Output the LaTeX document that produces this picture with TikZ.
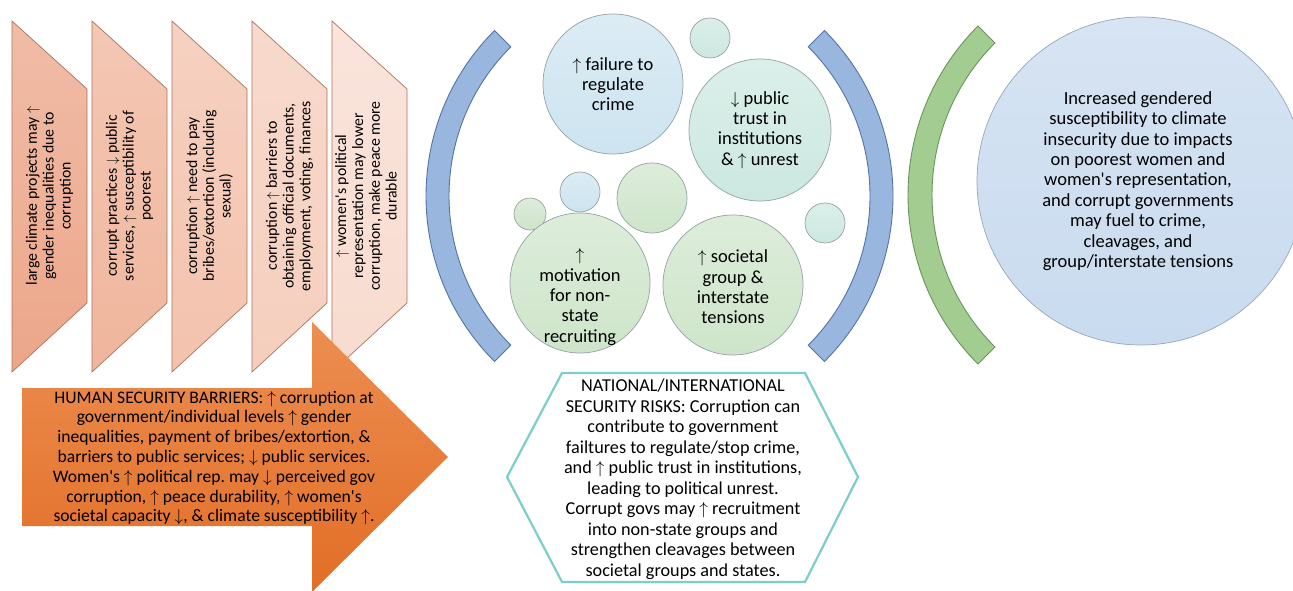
\documentclass[tikz,border=0pt]{standalone}
\usepackage{fontspec}
\setmainfont{Carlito}
\usepackage{tikz}
\usepackage{xcolor}
\usetikzlibrary{positioning, calc}
\frenchspacing

\definecolor{chevA}{RGB}{236,166,138}
\definecolor{chevB}{RGB}{240,181,156}
\definecolor{chevC}{RGB}{243,194,173}
\definecolor{chevD}{RGB}{245,206,189}
\definecolor{chevE}{RGB}{248,219,207}
\definecolor{chevline}{RGB}{170,115,95}
\definecolor{arrowtop}{RGB}{236,142,82}
\definecolor{arrowbot}{RGB}{226,110,38}
\definecolor{bandblue}{RGB}{152,182,222}
\definecolor{bandblueline}{RGB}{85,115,165}
\definecolor{bandgreen}{RGB}{163,204,145}
\definecolor{bandgreenline}{RGB}{105,148,92}
\definecolor{bubline}{RGB}{150,162,162}
\definecolor{bubblue}{RGB}{205,228,240}
\definecolor{bubmint}{RGB}{204,232,224}
\definecolor{bubgreen}{RGB}{206,229,202}
\definecolor{hexline}{RGB}{125,205,200}
\definecolor{outfill}{RGB}{201,219,239}
\definecolor{outline}{RGB}{150,166,186}

\newcommand{\upar}{$\uparrow$}
\newcommand{\dnar}{$\downarrow$}
\newcommand{\apos}{\textquotesingle}

\begin{document}
\begin{tikzpicture}[x=1pt, y=-1pt, >=stealth,
    chevron/.style={draw=chevline, line width=0.7pt},
    chevtext/.style={rotate=90, align=center, inner sep=0pt, font=\fontsize{15.8}{16.8}\selectfont},
    bubble/.style={draw=bubline, line width=0.7pt, circle, inner sep=0pt},
    bubtext/.style={align=center, inner sep=0pt, font=\fontsize{18.5}{20.3}\selectfont},
    band/.style={line width=0.9pt}]
\useasboundingbox (0,0) rectangle (1293,591);

% Five slanted boxes with turned text
\foreach \i/\col in {0/chevA, 1/chevB, 2/chevC, 3/chevD, 4/chevE} {
    \draw[chevron, top color=\col!75!white, bottom color=\col] ({12+80*\i},21) -- ++(75,68) -- ++(0,214) -- ++(-75,69) -- cycle;
}
\node[chevtext] (cheva) at (49.5,196) {large climate projects may \upar\\gender inequalities due to\\corruption};
\node[chevtext] (chevb) at (129.5,196) {corrupt practices \dnar{} public\\services, \upar{} susceptibility of\\poorest};
\node[chevtext] (chevc) at (209.5,196) {corruption \upar{} need to pay\\bribes/extortion (including\\sexual)};
\node[chevtext] (chevd) at (289.5,196) {corruption \upar{} barriers to\\obtaining official documents,\\employment, voting, finances};
\node[chevtext] (cheve) at (366,196) {\upar{} women\apos s political\\representation may lower\\corruption, make peace more\\durable};

% Big arrow
\draw[draw=none, top color=arrowtop, bottom color=arrowbot] (22,388) -- (312,388) -- (312,322) -- (448,457) -- (312,592) -- (312,526) -- (22,526) -- cycle;
\node[align=center, inner sep=0pt, font=\fontsize{17.6}{19.8}\selectfont] (barriers) at (214,458)
    {HUMAN SECURITY BARRIERS: \upar{} corruption at\\government/individual levels \upar{} gender\\inequalities, payment of bribes/extortion, \&\\barriers to public services; \dnar{} public services.\\Women\apos s \upar{} political rep. may \dnar{} perceived gov\\corruption, \upar{} peace durability, \upar{} women\apos s\\societal capacity \dnar, \& climate susceptibility \upar.};

% Brackets
\draw[band, draw=bandblueline, fill=bandblue] ($(660,196)+(135:234)$) arc[start angle=135, end angle=225, radius=234]
    -- ($(660,196)+(225:211)$) arc[start angle=225, end angle=135, radius=211] -- cycle;
\draw[band, draw=bandblueline, fill=bandblue] ($(659,196)+(-45:234)$) arc[start angle=-45, end angle=45, radius=234]
    -- ($(659,196)+(45:211)$) arc[start angle=45, end angle=-45, radius=211] -- cycle;
\draw[band, draw=bandgreenline, fill=bandgreen] ($(1147,195)+(135:239)$) arc[start angle=135, end angle=225, radius=239]
    -- ($(1147,195)+(225:215)$) arc[start angle=225, end angle=135, radius=215] -- cycle;

% Bubbles
\node[bubble, minimum size=140, top color=bubblue!70!white, bottom color=bubblue] (crime) at (613,84) {};
\node[bubble, minimum size=40, top color=bubmint!70!white, bottom color=bubmint] (dota) at (710,38) {};
\node[bubble, minimum size=142, top color=bubmint!70!white, bottom color=bubmint] (trust) at (760,130) {};
\node[bubble, minimum size=40, top color=bubblue!70!white, bottom color=bubblue] (dotb) at (580,192) {};
\node[bubble, minimum size=32, top color=bubgreen!70!white, bottom color=bubgreen] (dotc) at (530,214) {};
\node[bubble, minimum size=70, top color=bubgreen!70!white, bottom color=bubgreen] (dotd) at (652,198) {};
\node[bubble, minimum size=40, top color=bubmint!70!white, bottom color=bubmint] (dote) at (825,223) {};
\node[bubble, minimum size=140, top color=bubgreen!70!white, bottom color=bubgreen] (motive) at (580,283) {};
\node[bubble, minimum size=140, top color=bubgreen!70!white, bottom color=bubgreen] (tension) at (733,285) {};

\node[bubtext] (crimetxt) at (613,84) {\upar{} failure to\\regulate\\crime};
\node[bubtext] (trusttxt) at (760,130) {\dnar{} public\\trust in\\institutions\\\& \upar{} unrest};
\node[bubtext] (motivetxt) at (580,297) {\upar\\motivation\\for non-\\state\\recruiting};
\node[bubtext] (tensiontxt) at (733,287) {\upar{} societal\\group \&\\interstate\\tensions};

% Hexagon
\draw[line width=2.2pt, draw=hexline, fill=white] (507,477) -- (562,373) -- (805,373) -- (858,477) -- (805,582) -- (562,582) -- cycle;
\node[bubtext, font=\fontsize{18.2}{20.5}\selectfont] (risks) at (683,479) {NATIONAL/INTERNATIONAL\\SECURITY RISKS: Corruption can\\contribute to government\\failtures to regulate/stop crime,\\and \upar{} public trust in institutions,\\leading to political unrest.\\Corrupt govs may \upar{} recruitment\\into non-state groups and\\strengthen cleavages between\\societal groups and states.};

% Outcome circle
\node[bubble, draw=outline, minimum size=328, top color=outfill!75!white, bottom color=outfill] (outcome) at (1141,181) {};
\node[bubtext, font=\fontsize{18.5}{20.4}\selectfont] (outcometxt) at (1138,181) {Increased gendered\\susceptibility to climate\\insecurity due to impacts\\on poorest women and\\women\apos s representation,\\and corrupt governments\\may fuel to crime,\\cleavages, and\\group/interstate tensions};

\end{tikzpicture}
\end{document}
